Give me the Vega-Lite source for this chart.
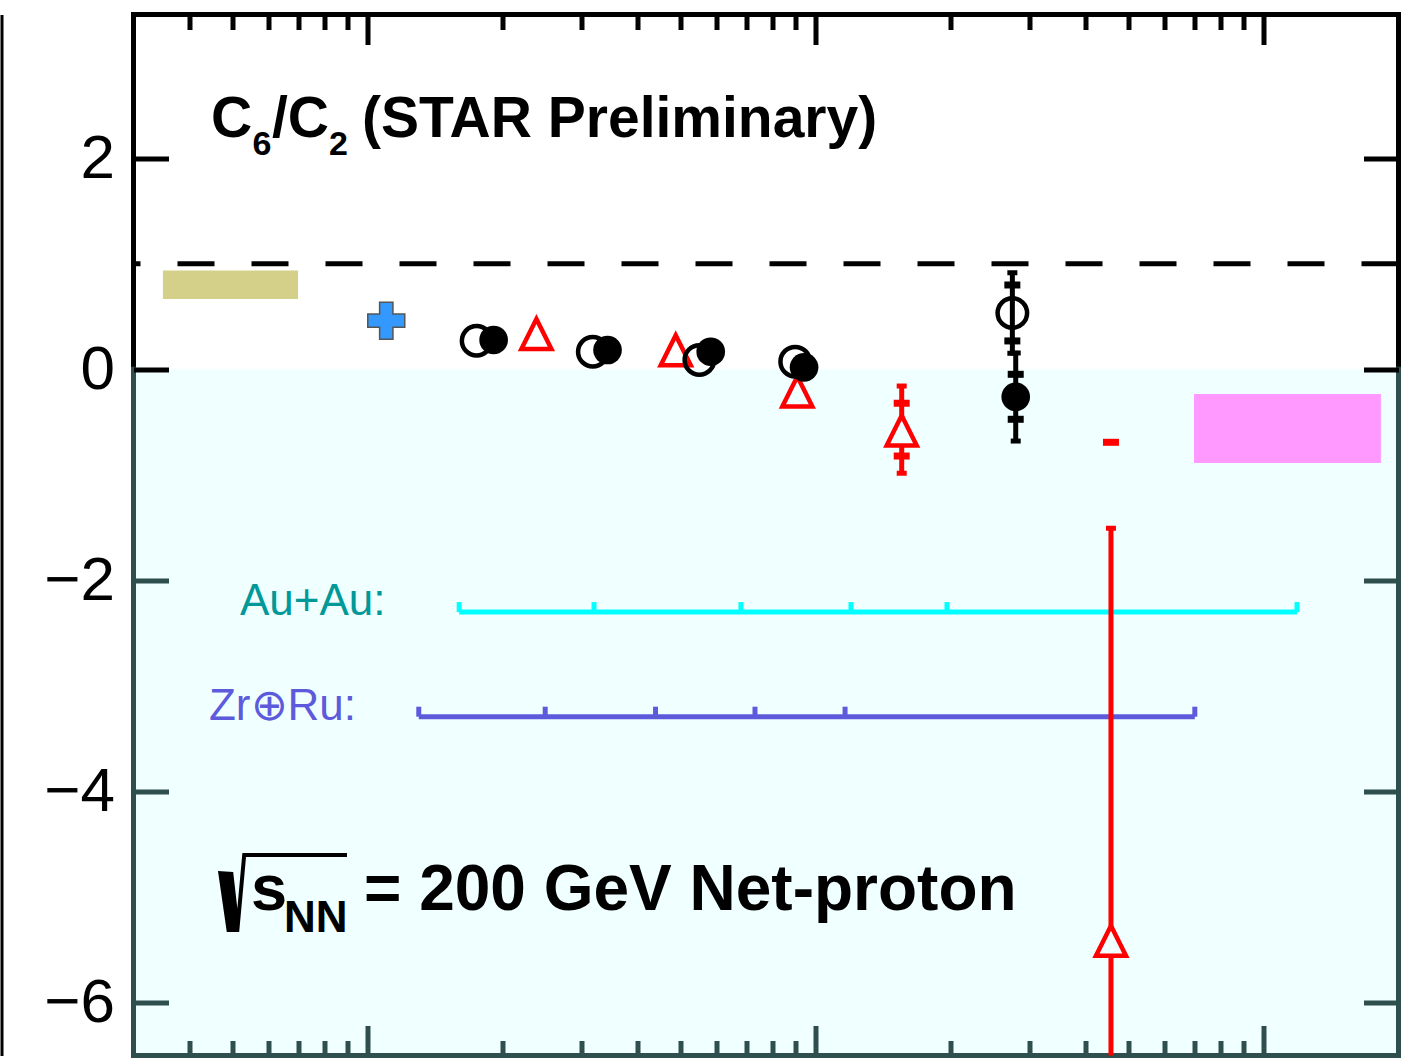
{
  "$schema": "https://vega.github.io/schema/vega-lite/v6.json",
  "width": 1265,
  "height": 1041,
  "autosize": {"type": "none"},
  "padding": {"left": 133.5, "top": 14.5, "right": 25.5, "bottom": 3.5},
  "background": "white",
  "config": {
    "view": {"stroke": "black", "strokeWidth": 5},
    "font": "Liberation Sans"
  },
  "datasets": {
    "bands": [
      {"band": "left", "x_lo": 3.49, "x_hi": 6.99, "y_lo": 0.665, "y_hi": 0.935},
      {"band": "right", "x_lo": 699, "x_hi": 1827, "y_lo": -0.888, "y_hi": -0.234}
    ],
    "markers": [
      {"series": "open", "x": 17.5, "y": 0.270},
      {"series": "open", "x": 31.8, "y": 0.166},
      {"series": "open", "x": 55.0, "y": 0.088},
      {"series": "open", "x": 90.0, "y": 0.072},
      {"series": "open", "x": 274.8, "y": 0.533},
      {"series": "filled", "x": 19.1, "y": 0.277},
      {"series": "filled", "x": 34.3, "y": 0.182},
      {"series": "filled", "x": 58.3, "y": 0.166},
      {"series": "filled", "x": 94.2, "y": 0.018},
      {"series": "filled", "x": 279.6, "y": -0.261},
      {"series": "triangle", "x": 23.8, "y": 0.341},
      {"series": "triangle", "x": 48.7, "y": 0.187},
      {"series": "triangle", "x": 91.0, "y": -0.203},
      {"series": "triangle", "x": 155.6, "y": -0.573},
      {"series": "triangle", "x": 456.2, "y": -5.406},
      {"series": "cross", "x": 11.0, "y": 0.46}
    ],
    "errors": [
      {"series": "triangle", "x": 155.6, "stat_lo": -0.985, "stat_hi": -0.159, "sys_lo": -0.822, "sys_hi": -0.322},
      {"series": "open", "x": 274.8, "stat_lo": 0.151, "stat_hi": 0.914, "sys_lo": 0.268, "sys_hi": 0.798},
      {"series": "filled", "x": 279.6, "stat_lo": -0.680, "stat_hi": 0.154, "sys_lo": -0.474, "sys_hi": -0.048},
      {"series": "triangle", "x": 456.2, "stat_lo": -9.31, "stat_hi": -1.506, "sys_lo": -10.13, "sys_hi": -0.692}
    ],
    "bins": [
      {"system": "Au+Au", "edge": 16.0},
      {"system": "Au+Au", "edge": 32.0},
      {"system": "Au+Au", "edge": 68.1},
      {"system": "Au+Au", "edge": 119.9},
      {"system": "Au+Au", "edge": 196.4},
      {"system": "Au+Au", "edge": 1187},
      {"system": "Zr+Ru", "edge": 13.0},
      {"system": "Zr+Ru", "edge": 24.9},
      {"system": "Zr+Ru", "edge": 43.9},
      {"system": "Zr+Ru", "edge": 73.2},
      {"system": "Zr+Ru", "edge": 116.3},
      {"system": "Zr+Ru", "edge": 702}
    ]
  },
  "resolve": {
    "axis": {"x": "independent", "y": "independent"},
    "scale": {"color": "independent"}
  },
  "layer": [
    {
      "data": {"values": [{}]},
      "mark": {"type": "rect", "fill": "#F0FFFF"},
      "encoding": {
        "x": {"datum": 3, "type": "quantitative", "scale": {"type": "log", "domain": [3, 2000], "nice": false},
          "axis": {"orient": "bottom", "values": [10, 100, 1000], "tickSize": -30, "tickWidth": 5, "tickColor": "#2F4F4F", "labels": false, "domain": false, "grid": false, "title": null, "zindex": 1}},
        "x2": {"datum": 2000},
        "y": {"datum": 0, "type": "quantitative", "scale": {"domain": [-6.5, 3.36], "nice": false, "zero": false},
          "axis": {"orient": "left", "values": [-6, -4, -2, 0, 2], "format": "d", "tickSize": -35, "tickWidth": 5,
            "tickColor": {"condition": {"test": "datum.value < 0", "value": "#2F4F4F"}, "value": "black"},
            "labelFont": "Liberation Sans", "labelFontSize": 62, "labelColor": "black", "labelPadding": 54,
            "labelFlush": false, "labelOverlap": false, "domain": false, "grid": false, "title": null, "zindex": 1}},
        "y2": {"datum": -6.5}
      }
    },
    {
      "data": {"name": "bands"},
      "mark": {"type": "rect"},
      "encoding": {
        "x": {"field": "x_lo", "type": "quantitative", "scale": {"type": "log", "domain": [3, 2000], "nice": false},
          "axis": {"orient": "bottom", "values": [4, 5, 6, 7, 8, 9, 20, 30, 40, 50, 60, 70, 80, 90, 200, 300, 400, 500, 600, 700, 800, 900], "tickSize": -15, "tickWidth": 5, "tickColor": "#2F4F4F", "labels": false, "domain": false, "grid": false, "title": null, "zindex": 1}},
        "x2": {"field": "x_hi"},
        "y": {"field": "y_lo", "type": "quantitative", "scale": {"domain": [-6.5, 3.36], "nice": false, "zero": false},
          "axis": {"orient": "right", "values": [-6, -4, -2, 0, 2], "tickSize": -35, "tickWidth": 5,
            "tickColor": {"condition": {"test": "datum.value < 0", "value": "#2F4F4F"}, "value": "black"},
            "labels": false, "domain": false, "grid": false, "title": null, "zindex": 1}},
        "y2": {"field": "y_hi"},
        "color": {"field": "band", "type": "nominal", "scale": {"domain": ["left", "right"], "range": ["#D4D08A", "#FF99FF"]}, "legend": null}
      }
    },
    {
      "data": {"values": [{}]},
      "mark": {"type": "rule", "strokeDash": [37, 37], "strokeWidth": 5, "color": "black"},
      "encoding": {
        "y": {"datum": 1, "type": "quantitative", "scale": {"domain": [-6.5, 3.36], "nice": false, "zero": false},
          "axis": {"orient": "left", "offset": 132, "ticks": false, "labels": false, "grid": false, "domain": true, "domainColor": "black", "domainWidth": 3, "title": null}}
      }
    },
    {
      "data": {"values": [{}]},
      "mark": {"type": "rule", "color": "#2F4F4F", "strokeWidth": 5, "strokeCap": "square"},
      "encoding": {
        "x": {"datum": 3, "type": "quantitative", "scale": {"type": "log", "domain": [3, 2000], "nice": false}, "axis": null},
        "y": {"datum": 0, "type": "quantitative", "scale": {"domain": [-6.5, 3.36], "nice": false, "zero": false}, "axis": null},
        "y2": {"datum": -6.5}
      }
    },
    {
      "data": {"values": [{}]},
      "mark": {"type": "rule", "color": "#2F4F4F", "strokeWidth": 5, "strokeCap": "square"},
      "encoding": {
        "x": {"datum": 2000, "type": "quantitative", "scale": {"type": "log", "domain": [3, 2000], "nice": false}, "axis": null},
        "y": {"datum": 0, "type": "quantitative", "scale": {"domain": [-6.5, 3.36], "nice": false, "zero": false}, "axis": null},
        "y2": {"datum": -6.5}
      }
    },
    {
      "data": {"values": [{}]},
      "mark": {"type": "rule", "color": "#2F4F4F", "strokeWidth": 5, "strokeCap": "square"},
      "encoding": {
        "x": {"datum": 3, "type": "quantitative", "scale": {"type": "log", "domain": [3, 2000], "nice": false}, "axis": null},
        "x2": {"datum": 2000},
        "y": {"datum": -6.5, "type": "quantitative", "scale": {"domain": [-6.5, 3.36], "nice": false, "zero": false}, "axis": null}
      }
    },
    {
      "data": {"name": "bins"},
      "transform": [{"filter": "datum.system === 'Au+Au'"}],
      "mark": {"type": "rule", "color": "#00FFFF", "strokeWidth": 5},
      "encoding": {
        "x": {"aggregate": "min", "field": "edge", "type": "quantitative", "scale": {"type": "log", "domain": [3, 2000], "nice": false},
          "axis": {"orient": "top", "values": [10, 100, 1000], "tickSize": -30, "tickWidth": 5, "tickColor": "black", "labels": false, "domain": false, "grid": false, "title": null, "zindex": 1}},
        "x2": {"aggregate": "max", "field": "edge"},
        "y": {"datum": -2.3, "type": "quantitative", "scale": {"domain": [-6.5, 3.36], "nice": false, "zero": false}, "axis": null}
      }
    },
    {
      "data": {"name": "bins"},
      "transform": [{"filter": "datum.system === 'Au+Au'"}],
      "mark": {"type": "tick", "orient": "vertical", "color": "#00FFFF", "size": 10, "thickness": 5, "yOffset": -5, "opacity": 1},
      "encoding": {
        "x": {"field": "edge", "type": "quantitative", "scale": {"type": "log", "domain": [3, 2000], "nice": false},
          "axis": {"orient": "top", "values": [4, 5, 6, 7, 8, 9, 20, 30, 40, 50, 60, 70, 80, 90, 200, 300, 400, 500, 600, 700, 800, 900], "tickSize": -15, "tickWidth": 5, "tickColor": "black", "labels": false, "domain": false, "grid": false, "title": null, "zindex": 1}},
        "y": {"datum": -2.3, "type": "quantitative", "scale": {"domain": [-6.5, 3.36], "nice": false, "zero": false}, "axis": null}
      }
    },
    {
      "data": {"name": "bins"},
      "transform": [{"filter": "datum.system === 'Zr+Ru'"}],
      "mark": {"type": "rule", "color": "#5D5BDB", "strokeWidth": 5},
      "encoding": {
        "x": {"aggregate": "min", "field": "edge", "type": "quantitative", "scale": {"type": "log", "domain": [3, 2000], "nice": false}, "axis": null},
        "x2": {"aggregate": "max", "field": "edge"},
        "y": {"datum": -3.291, "type": "quantitative", "scale": {"domain": [-6.5, 3.36], "nice": false, "zero": false}, "axis": null}
      }
    },
    {
      "data": {"name": "bins"},
      "transform": [{"filter": "datum.system === 'Zr+Ru'"}],
      "mark": {"type": "tick", "orient": "vertical", "color": "#5D5BDB", "size": 10, "thickness": 5, "yOffset": -5, "opacity": 1},
      "encoding": {
        "x": {"field": "edge", "type": "quantitative", "scale": {"type": "log", "domain": [3, 2000], "nice": false}, "axis": null},
        "y": {"datum": -3.291, "type": "quantitative", "scale": {"domain": [-6.5, 3.36], "nice": false, "zero": false}, "axis": null}
      }
    },
    {
      "data": {"values": [{}]},
      "mark": {"type": "text", "text": "Au+Au:", "align": "left", "baseline": "alphabetic", "font": "Liberation Sans", "fontSize": 44, "color": "#009999"},
      "encoding": {
        "x": {"datum": 5.186, "type": "quantitative", "scale": {"type": "log", "domain": [3, 2000], "nice": false}, "axis": null},
        "y": {"datum": -2.328, "type": "quantitative", "scale": {"domain": [-6.5, 3.36], "nice": false, "zero": false}, "axis": null}
      }
    },
    {
      "data": {"values": [{}]},
      "mark": {"type": "text", "text": "Zr⊕Ru:", "align": "left", "baseline": "alphabetic", "font": "Liberation Sans", "fontSize": 44, "color": "#5D5BDB"},
      "encoding": {
        "x": {"datum": 4.422, "type": "quantitative", "scale": {"type": "log", "domain": [3, 2000], "nice": false}, "axis": null},
        "y": {"datum": -3.322, "type": "quantitative", "scale": {"domain": [-6.5, 3.36], "nice": false, "zero": false}, "axis": null}
      }
    },
    {
      "data": {"name": "errors"},
      "mark": {"type": "rule", "strokeWidth": 5, "clip": true},
      "encoding": {
        "x": {"field": "x", "type": "quantitative", "scale": {"type": "log", "domain": [3, 2000], "nice": false}, "axis": null},
        "y": {"field": "stat_lo", "type": "quantitative", "scale": {"domain": [-6.5, 3.36], "nice": false, "zero": false}, "axis": null},
        "y2": {"field": "stat_hi"},
        "color": {"field": "series", "type": "nominal", "scale": {"domain": ["open", "filled", "triangle"], "range": ["black", "black", "#FF0000"]}, "legend": null}
      }
    },
    {
      "data": {"name": "errors"},
      "transform": [{"fold": ["stat_lo", "stat_hi"], "as": ["end", "value"]}],
      "mark": {"type": "tick", "orient": "horizontal", "size": 10, "thickness": 5, "clip": true, "opacity": 1},
      "encoding": {
        "x": {"field": "x", "type": "quantitative", "scale": {"type": "log", "domain": [3, 2000], "nice": false}, "axis": null},
        "y": {"field": "value", "type": "quantitative", "scale": {"domain": [-6.5, 3.36], "nice": false, "zero": false}, "axis": null},
        "color": {"field": "series", "type": "nominal", "scale": {"domain": ["open", "filled", "triangle"], "range": ["black", "black", "#FF0000"]}, "legend": null}
      }
    },
    {
      "data": {"name": "errors"},
      "transform": [{"fold": ["sys_lo", "sys_hi"], "as": ["end", "value"]}],
      "mark": {"type": "tick", "orient": "horizontal", "size": 16, "thickness": 7, "clip": true, "opacity": 1},
      "encoding": {
        "x": {"field": "x", "type": "quantitative", "scale": {"type": "log", "domain": [3, 2000], "nice": false}, "axis": null},
        "y": {"field": "value", "type": "quantitative", "scale": {"domain": [-6.5, 3.36], "nice": false, "zero": false}, "axis": null},
        "color": {"field": "series", "type": "nominal", "scale": {"domain": ["open", "filled", "triangle"], "range": ["black", "black", "#FF0000"]}, "legend": null}
      }
    },
    {
      "data": {"name": "markers"},
      "transform": [{"filter": "datum.series === 'triangle'"}],
      "mark": {"type": "point", "shape": "M0,-0.95L1,1.05L-1,1.05Z", "filled": true, "stroke": "#FF0000", "strokeWidth": 4.5, "size": 900, "opacity": 1},
      "encoding": {
        "x": {"field": "x", "type": "quantitative", "scale": {"type": "log", "domain": [3, 2000], "nice": false}, "axis": null},
        "y": {"field": "y", "type": "quantitative", "scale": {"domain": [-6.5, 3.36], "nice": false, "zero": false}, "axis": null},
        "fill": {"condition": {"test": "datum.y < 0", "value": "#F0FFFF"}, "value": "white"}
      }
    },
    {
      "data": {"name": "markers"},
      "transform": [{"filter": "datum.series === 'open'"}],
      "mark": {"type": "point", "shape": "circle", "filled": false, "color": "black", "strokeWidth": 4.5, "size": 870, "opacity": 1},
      "encoding": {
        "x": {"field": "x", "type": "quantitative", "scale": {"type": "log", "domain": [3, 2000], "nice": false}, "axis": null},
        "y": {"field": "y", "type": "quantitative", "scale": {"domain": [-6.5, 3.36], "nice": false, "zero": false}, "axis": null}
      }
    },
    {
      "data": {"name": "markers"},
      "transform": [{"filter": "datum.series === 'filled'"}],
      "mark": {"type": "point", "shape": "circle", "filled": true, "color": "black", "strokeWidth": 0, "size": 820, "opacity": 1},
      "encoding": {
        "x": {"field": "x", "type": "quantitative", "scale": {"type": "log", "domain": [3, 2000], "nice": false}, "axis": null},
        "y": {"field": "y", "type": "quantitative", "scale": {"domain": [-6.5, 3.36], "nice": false, "zero": false}, "axis": null}
      }
    },
    {
      "data": {"name": "markers"},
      "transform": [{"filter": "datum.series === 'cross'"}],
      "mark": {"type": "point", "shape": "M-0.36,-1H0.36V-0.36H1V0.36H0.36V1H-0.36V0.36H-1V-0.36H-0.36Z", "filled": true, "fill": "#3399FF", "stroke": "#555555", "strokeWidth": 1.5, "size": 1369, "opacity": 1},
      "encoding": {
        "x": {"field": "x", "type": "quantitative", "scale": {"type": "log", "domain": [3, 2000], "nice": false}, "axis": null},
        "y": {"field": "y", "type": "quantitative", "scale": {"domain": [-6.5, 3.36], "nice": false, "zero": false}, "axis": null}
      }
    },
    {
      "data": {"values": [{}]},
      "mark": {"type": "text", "text": "C", "align": "left", "baseline": "alphabetic", "font": "Liberation Sans", "fontWeight": "bold", "fontSize": 57, "color": "black"},
      "encoding": {
        "x": {"datum": 4.468, "type": "quantitative", "scale": {"type": "log", "domain": [3, 2000], "nice": false}, "axis": null},
        "y": {"datum": 2.2, "type": "quantitative", "scale": {"domain": [-6.5, 3.36], "nice": false, "zero": false}, "axis": null}
      }
    },
    {
      "data": {"values": [{}]},
      "mark": {"type": "text", "text": "6", "align": "left", "baseline": "alphabetic", "font": "Liberation Sans", "fontWeight": "bold", "fontSize": 34, "color": "black"},
      "encoding": {
        "x": {"datum": 5.53, "type": "quantitative", "scale": {"type": "log", "domain": [3, 2000], "nice": false}, "axis": null},
        "y": {"datum": 2.029, "type": "quantitative", "scale": {"domain": [-6.5, 3.36], "nice": false, "zero": false}, "axis": null}
      }
    },
    {
      "data": {"values": [{}]},
      "mark": {"type": "text", "text": "/C", "align": "left", "baseline": "alphabetic", "font": "Liberation Sans", "fontWeight": "bold", "fontSize": 57, "color": "black"},
      "encoding": {
        "x": {"datum": 6.114, "type": "quantitative", "scale": {"type": "log", "domain": [3, 2000], "nice": false}, "axis": null},
        "y": {"datum": 2.2, "type": "quantitative", "scale": {"domain": [-6.5, 3.36], "nice": false, "zero": false}, "axis": null}
      }
    },
    {
      "data": {"values": [{}]},
      "mark": {"type": "text", "text": "2", "align": "left", "baseline": "alphabetic", "font": "Liberation Sans", "fontWeight": "bold", "fontSize": 34, "color": "black"},
      "encoding": {
        "x": {"datum": 8.2, "type": "quantitative", "scale": {"type": "log", "domain": [3, 2000], "nice": false}, "axis": null},
        "y": {"datum": 2.029, "type": "quantitative", "scale": {"domain": [-6.5, 3.36], "nice": false, "zero": false}, "axis": null}
      }
    },
    {
      "data": {"values": [{}]},
      "mark": {"type": "text", "text": "(STAR Preliminary)", "align": "left", "baseline": "alphabetic", "font": "Liberation Sans", "fontWeight": "bold", "fontSize": 57, "color": "black"},
      "encoding": {
        "x": {"datum": 9.71, "type": "quantitative", "scale": {"type": "log", "domain": [3, 2000], "nice": false}, "axis": null},
        "y": {"datum": 2.2, "type": "quantitative", "scale": {"domain": [-6.5, 3.36], "nice": false, "zero": false}, "axis": null}
      }
    },
    {
      "data": {"values": [{}]},
      "mark": {"type": "point", "shape": "M-0.35,-0.54L0.03,-0.51L0.134,0.4L0.26,-0.99L0.36,-0.99L0.18,0.99L-0.13,0.99Z", "filled": true, "color": "black", "strokeWidth": 0, "size": 6400, "opacity": 1},
      "encoding": {
        "x": {"datum": 4.977, "type": "quantitative", "scale": {"type": "log", "domain": [3, 2000], "nice": false}, "axis": null},
        "y": {"datum": -4.956, "type": "quantitative", "scale": {"domain": [-6.5, 3.36], "nice": false, "zero": false}, "axis": null}
      }
    },
    {
      "data": {"values": [{}]},
      "mark": {"type": "rule", "color": "black", "strokeWidth": 4},
      "encoding": {
        "x": {"datum": 5.267, "type": "quantitative", "scale": {"type": "log", "domain": [3, 2000], "nice": false}, "axis": null},
        "x2": {"datum": 8.989},
        "y": {"datum": -4.601, "type": "quantitative", "scale": {"domain": [-6.5, 3.36], "nice": false, "zero": false}, "axis": null}
      }
    },
    {
      "data": {"values": [{}]},
      "mark": {"type": "text", "text": "s", "align": "left", "baseline": "alphabetic", "font": "Liberation Sans", "fontWeight": "bold", "fontSize": 65, "color": "black"},
      "encoding": {
        "x": {"datum": 5.489, "type": "quantitative", "scale": {"type": "log", "domain": [3, 2000], "nice": false}, "axis": null},
        "y": {"datum": -5.122, "type": "quantitative", "scale": {"domain": [-6.5, 3.36], "nice": false, "zero": false}, "axis": null}
      }
    },
    {
      "data": {"values": [{}]},
      "mark": {"type": "text", "text": "NN", "align": "left", "baseline": "alphabetic", "font": "Liberation Sans", "fontWeight": "bold", "fontSize": 44, "color": "black"},
      "encoding": {
        "x": {"datum": 6.502, "type": "quantitative", "scale": {"type": "log", "domain": [3, 2000], "nice": false}, "axis": null},
        "y": {"datum": -5.33, "type": "quantitative", "scale": {"domain": [-6.5, 3.36], "nice": false, "zero": false}, "axis": null}
      }
    },
    {
      "data": {"values": [{}]},
      "mark": {"type": "text", "text": "= 200 GeV Net-proton", "align": "left", "baseline": "alphabetic", "font": "Liberation Sans", "fontWeight": "bold", "fontSize": 64, "color": "black"},
      "encoding": {
        "x": {"datum": 9.81, "type": "quantitative", "scale": {"type": "log", "domain": [3, 2000], "nice": false}, "axis": null},
        "y": {"datum": -5.122, "type": "quantitative", "scale": {"domain": [-6.5, 3.36], "nice": false, "zero": false}, "axis": null}
      }
    }
  ]
}
